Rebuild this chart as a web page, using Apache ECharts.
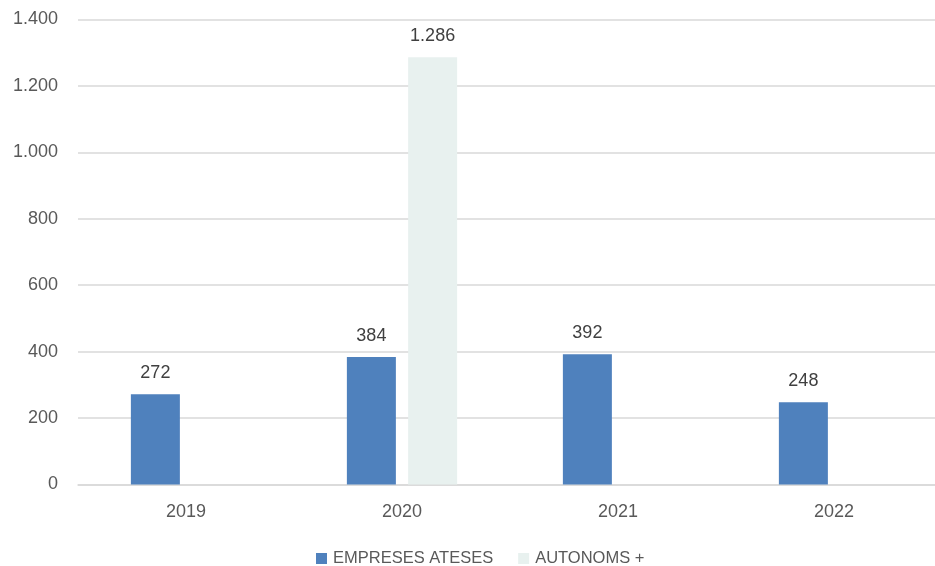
<!DOCTYPE html>
<html>
<head>
<meta charset="utf-8">
<script src="https://cdn.jsdelivr.net/npm/echarts@6/dist/echarts.min.js"></script>
<style>html,body{margin:0;padding:0;background:#fff;overflow:hidden;}#c{width:942px;height:566px;}</style>
</head>
<body>
<div id="c"></div>
<script>
const categories = ['2019', '2020', '2021', '2022'];
const empresesAteses = [272, 384, 392, 248];
const autonoms = [null, 1286, null, null];
const seriesNames = ['EMPRESES ATESES', 'AUTONOMS +'];

const fmt = v => {
  const s = String(Math.round(v));
  return s.replace(/\B(?=(\d{3})+(?!\d))/g, '.');
};
const font = 'Liberation Sans, Arial, sans-serif';
const chart = echarts.init(document.getElementById('c'));
chart.setOption({
  animation: false,
  textStyle: { fontFamily: font },
  grid: { left: 78, top: 19.5, right: 0, bottom: 81.5, containLabel: false },
  legend: {
    data: seriesNames,
    top: 550,
    left: 316,
    padding: 0,
    itemWidth: 11, itemHeight: 11, itemGap: 25,
    icon: 'rect',
    textStyle: { color: '#595959', fontSize: 16.5, fontFamily: font, padding: [0, 0, 0, 1] }
  },
  xAxis: {
    type: 'category',
    data: categories,
    axisLine: { show: true, lineStyle: { color: '#d9d9d9', width: 1.5 } },
    axisTick: { show: false },
    axisLabel: { color: '#595959', fontSize: 18, margin: 19, fontFamily: font }
  },
  yAxis: {
    type: 'value',
    min: 0, max: 1400, interval: 200,
    axisLine: { show: false },
    axisTick: { show: false },
    splitLine: { lineStyle: { color: '#d9d9d9', width: 1.5 } },
    axisLabel: { color: '#595959', fontSize: 18, margin: 20, formatter: fmt, fontFamily: font }
  },
  series: [
    {
      name: seriesNames[0], type: 'bar', data: empresesAteses,
      barWidth: 49, barGap: '25%',
      itemStyle: { color: '#4f81bd' },
      label: { show: true, position: 'top', distance: 12, color: '#404040', fontSize: 18, formatter: p => fmt(p.value), fontFamily: font }
    },
    {
      name: seriesNames[1], type: 'bar', data: autonoms,
      barWidth: 49, barGap: '25%',
      itemStyle: { color: '#e8f1ef' },
      label: { show: true, position: 'top', distance: 12, color: '#404040', fontSize: 18, formatter: p => fmt(p.value), fontFamily: font }
    }
  ]
});
</script>
</body>
</html>
